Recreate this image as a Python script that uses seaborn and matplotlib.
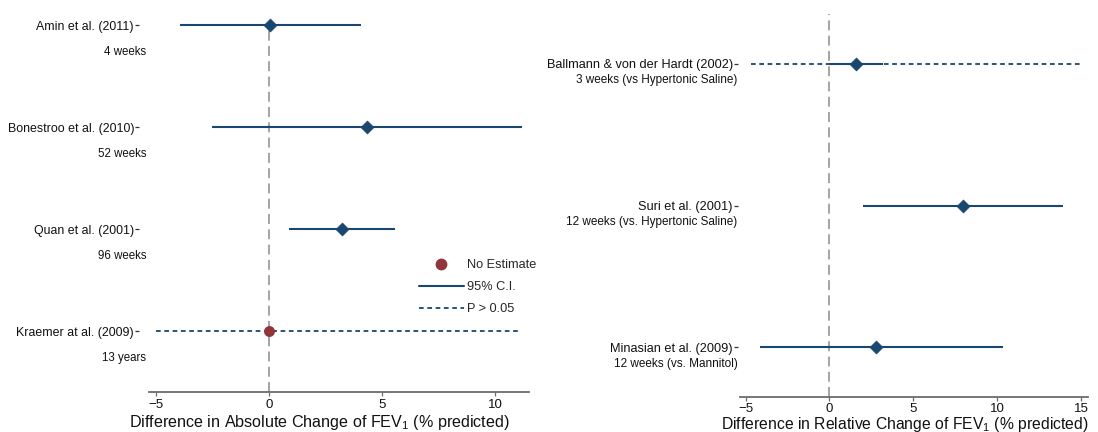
import numpy as np
import pandas as pd
import matplotlib
matplotlib.use("Agg")
import matplotlib.pyplot as plt
from matplotlib.lines import Line2D
import seaborn as sns

sns.set_theme(style="white")
plt.rcParams["font.family"] = ["Liberation Sans", "DejaVu Sans"]
plt.rcParams["mathtext.fontset"] = "custom"
plt.rcParams["mathtext.rm"] = "Liberation Sans"
plt.rcParams["mathtext.it"] = "Liberation Sans:italic"
plt.rcParams["axes.unicode_minus"] = True

nan = np.nan

# ---- Absolute change panel ----
abs_studies = ["Amin et al. (2011)", "Bonestroo et al. (2010)", "Quan et al. (2001)", "Kraemer at al. (2009)"]
abs_duration = ["4 weeks", "52 weeks", "96 weeks", "13 years"]
abs_est = [0.07, 4.31, 3.21, 0.0]
abs_lo = [-3.93, -2.53, 0.88, nan]
abs_hi = [4.07, 11.16, 5.57, nan]
abs_ns_lo = [nan, nan, nan, -5.0]
abs_ns_hi = [nan, nan, nan, 11.05]
abs_has_est = [True, True, True, False]

# ---- Relative change panel ----
rel_studies = ["Ballmann & von der Hardt (2002)", "Suri et al. (2001)", "Minasian et al. (2009)"]
rel_duration = ["3 weeks (vs Hypertonic Saline)", "12 weeks (vs. Hypertonic Saline)", "12 weeks (vs. Mannitol)"]
rel_est = [1.57, 7.97, 2.80]
rel_lo = [0.0, 2.02, -4.14]
rel_hi = [3.2, 13.92, 10.33]
rel_ns_lo = [-4.66, nan, nan]
rel_ns_hi = [14.96, nan, nan]
rel_has_est = [True, True, True]

x_ticks_abs = [-5, 0, 5, 10]
x_ticks_rel = [-5, 0, 5, 10, 15]
legend_labels = ["No Estimate", "95% C.I.", "P > 0.05"]

NAVY = "#1a476f"
MAROON = "#90353b"
ZERO = "#8c8c8c"
AXIS = "#6b6b6b"
NS_STYLE = (0, (2.6, 2.0))

W, H = 1098, 432
fig = plt.figure(figsize=(W / 100, H / 100), dpi=100)


def px_axes(l, r, t, b):
    return fig.add_axes([l / W, 1 - b / H, (r - l) / W, (b - t) / H])


def panel(ax, studies, durations, est, lo, hi, nslo, nshi, has, xlim, ylim,
          xticks, xlabel, spine_out, lab_size, sub_dx, sub_dy, sub_size,
          xlab_xy, xlab_size, xpad):
    df = pd.DataFrame(dict(study=studies, est=est, lo=lo, hi=hi,
                           nslo=nslo, nshi=nshi, has=has))
    df["pos"] = np.arange(len(df), dtype=float)

    ax.axvline(0, color=ZERO, lw=1.1, ls=(0, (6.5, 3.5)), zorder=1)

    ns = df.dropna(subset=["nslo"])
    if len(ns):
        ax.hlines(ns["pos"], ns["nslo"], ns["nshi"], color=NAVY, lw=1.3,
                  linestyles=[NS_STYLE], zorder=2, clip_on=False)
    ci = df.dropna(subset=["lo"])
    if len(ci):
        ax.hlines(ci["pos"], ci["lo"], ci["hi"], color=NAVY, lw=1.5,
                  zorder=3, clip_on=False)

    d_est = df[df["has"]]
    if len(d_est):
        sns.scatterplot(data=d_est, x="est", y="pos", marker="D", s=46,
                        color=NAVY, edgecolor=NAVY, linewidth=0.3,
                        zorder=4, ax=ax, legend=False, clip_on=False)
    d_no = df[~df["has"]]
    if len(d_no):
        sns.scatterplot(data=d_no, x="est", y="pos", marker="o", s=62,
                        color=MAROON, edgecolor=MAROON, linewidth=0,
                        zorder=4, ax=ax, legend=False, clip_on=False)

    ax.set_xlim(*xlim)
    ax.set_ylim(*ylim)
    ax.set_xticks(xticks)
    ax.set_yticks(df["pos"])
    ax.set_yticklabels(studies)
    ax.set_ylabel("")
    ax.set_xlabel(xlabel, fontsize=xlab_size, color="#111111", va="center")
    ax.xaxis.set_label_coords(*xlab_xy)

    for s in ["top", "right"]:
        ax.spines[s].set_visible(False)
    ax.spines["left"].set_position(("outward", spine_out))
    ax.spines["left"].set_color("none")
    ax.spines["bottom"].set_color(AXIS)
    ax.spines["bottom"].set_linewidth(1.3)

    ax.tick_params(axis="y", left=True, direction="out", length=3, width=0.9,
                   color="#333333", pad=0.8, labelsize=lab_size,
                   labelcolor="#111111")
    ax.tick_params(axis="x", bottom=True, direction="out", length=3,
                   width=0.9, color=AXIS, pad=xpad, labelsize=9.5,
                   labelcolor="#111111")

    for p, d in zip(df["pos"], durations):
        ax.annotate(d, xy=(0, p), xycoords=ax.get_yaxis_transform(),
                    xytext=(sub_dx, -sub_dy), textcoords="offset pixels",
                    ha="right", va="center", fontsize=sub_size, color="#111111")
    return df


# Left panel
L1, R1, T1, B1 = 149, 529, 24, 392
ax1 = px_axes(L1, R1, T1, B1)
panel(ax1, abs_studies, abs_duration, abs_est, abs_lo, abs_hi, abs_ns_lo,
      abs_ns_hi, abs_has_est, (-5.29, 11.48), (3.598, -0.01), x_ticks_abs,
      r"Difference in Absolute Change of FEV$_1$ (% predicted)",
      spine_out=7, lab_size=8.9, sub_dx=-3, sub_dy=27, sub_size=8.3,
      xlab_xy=((319 - L1) / (R1 - L1), (B1 - 423) / (B1 - T1)),
      xlab_size=11.6, xpad=2.2)

# Right panel
L2, R2, T2, B2 = 739.5, 1087.5, 14, 397
ax2 = px_axes(L2, R2, T2, B2)
panel(ax2, rel_studies, rel_duration, rel_est, rel_lo, rel_hi, rel_ns_lo,
      rel_ns_hi, rel_has_est, (-5.36, 15.39), (2.353, -0.353), x_ticks_rel,
      r"Difference in Relative Change of FEV$_1$ (% predicted)",
      spine_out=1, lab_size=9.2, sub_dx=-2, sub_dy=16.5, sub_size=8.5,
      xlab_xy=((905 - L2) / (R2 - L2), (B2 - 424) / (B2 - T2)),
      xlab_size=11.3, xpad=1.0)

handles = [
    Line2D([], [], marker="o", ls="none", color=MAROON, markersize=7.5),
    Line2D([], [], color=NAVY, lw=1.5),
    Line2D([], [], color=NAVY, lw=1.3, ls=NS_STYLE),
]
ax1.legend(handles, legend_labels, loc="upper left",
           bbox_to_anchor=(419 / W, 1 - 259 / H), bbox_transform=fig.transFigure,
           frameon=False, fontsize=9.2, handlelength=3.5, handletextpad=0.25,
           labelspacing=0.8, borderpad=0, borderaxespad=0)

fig.savefig("out.png", dpi=100)
